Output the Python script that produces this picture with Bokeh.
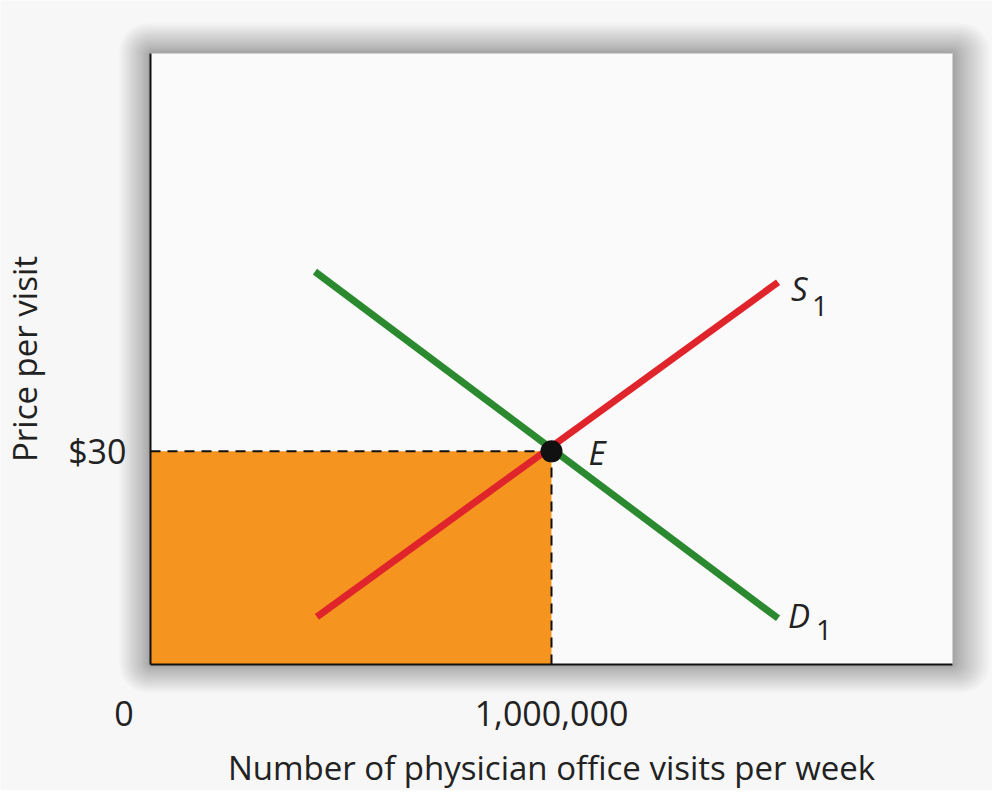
from bokeh.plotting import figure
from bokeh.models import Range1d, FixedTicker, BoxAnnotation
from bokeh.core.properties import value
from bokeh.embed import file_html
from bokeh.resources import INLINE

# ---- data ----
x_max = 2_000_000
y_max = 86
eq_q = [1_000_000]
eq_p = [30]
x_ticks = [0, 1_000_000]
x_tick_labels = {0: "0" + "\u00a0" * 6, 1_000_000: "1,000,000"}
y_ticks = [30]
y_tick_labels = {30: "$30"}
demand_q = [410_000, 1_565_000]
demand_p = [55.3, 6.5]
supply_q = [415_000, 1_565_000]
supply_p = [6.7, 53.8]
curve_names = ["S", "D"]
curve_subs = ["1", "1"]

FONT = "Open Sans"
CW, CH = 992, 790           # canvas
BOX_L, BOX_T = 150, 53      # box position in canvas px
BOX_W, BOX_H = 802, 611
dxp = x_max / BOX_W
dyp = y_max / BOX_H

x0 = -BOX_L * dxp
x1 = x_max + (CW - BOX_L - BOX_W) * dxp
y0 = -(CH - BOX_T - BOX_H) * dyp
y1 = y_max + BOX_T * dyp

p = figure(frame_width=CW, frame_height=CH,
           x_range=Range1d(x0, x1), y_range=Range1d(y0, y1),
           output_backend="svg", toolbar_location=None,
           min_border=0, min_border_left=0, min_border_right=0,
           min_border_top=0, min_border_bottom=0)
p.background_fill_color = "#f7f7f7"
p.border_fill_color = "#f7f7f7"
p.outline_line_color = None
p.xgrid.visible = False
p.ygrid.visible = False

# soft shadow around the box (denser near the edge)
N = 16
for k in range(1, N + 1):
    f = (k / N) ** 1.3
    p.add_layout(BoxAnnotation(left=-31 * f * dxp, right=x_max + 37 * f * dxp,
                               bottom=-28 * f * dyp, top=y_max + 30 * f * dyp,
                               fill_color="black", fill_alpha=0.022, line_color=None,
                               border_radius=int(4 + 24 * f), level="underlay"))

# box interior
p.quad(left=[0], right=[x_max], bottom=[0], top=[y_max], fill_color="#fafafa",
       line_color="#d0d0d0", line_width=1)

# revenue rectangle
p.quad(left=[0], right=eq_q, bottom=[0], top=eq_p, fill_color="#f5941f", line_color=None)

# curves
p.line(demand_q, demand_p, line_color="#2b8a2f", line_width=7)
p.line(supply_q, supply_p, line_color="#e0242b", line_width=7)

# dashed guides
p.segment(x0=[0, eq_q[0]], y0=[eq_p[0], 0], x1=[eq_q[0], eq_q[0]], y1=[eq_p[0], eq_p[0]],
          line_color="#111111", line_width=2, line_dash="10 7")

# equilibrium point
p.scatter(eq_q, eq_p, size=22, fill_color="#111111", line_color=None)

# labels
p.text(x=eq_q, y=eq_p, text=["E"], x_offset=37, y_offset=1, text_font=value(FONT),
       text_font_style="italic", text_font_size="33px", text_baseline="middle",
       text_align="left", text_color="#222222")
p.text(x=[supply_q[-1], demand_q[-1]], y=[supply_p[-1], demand_p[-1]], text=curve_names,
       x_offset=[13, 10], y_offset=[6, -3], text_font=value(FONT), text_font_style="italic",
       text_font_size="33px", text_baseline="middle", text_align="left", text_color="#222222")
p.text(x=[supply_q[-1], demand_q[-1]], y=[supply_p[-1], demand_p[-1]], text=curve_subs,
       x_offset=[34, 38], y_offset=[24, 12], text_font=value(FONT),
       text_font_size="28px", text_baseline="middle", text_align="left", text_color="#222222")

# axes, pinned to the box edges
for ax in (p.xaxis[0], p.yaxis[0]):
    ax.fixed_location = 0
    ax.axis_line_color = "#111111"
    ax.axis_line_width = 2
    ax.major_tick_line_color = None
    ax.minor_tick_line_color = None
    ax.major_label_text_font = FONT
    ax.major_label_text_font_size = "34px"
    ax.major_label_text_color = "#222222"
    ax.axis_label_text_font = FONT
    ax.axis_label_text_font_style = "normal"
    ax.axis_label_text_color = "#222222"

p.xaxis.bounds = (0, x_max)
p.xaxis.ticker = FixedTicker(ticks=x_ticks)
p.xaxis.major_label_overrides = x_tick_labels
p.xaxis.major_label_standoff = 19
p.xaxis.axis_label = "Number of physician office visits per week"
p.xaxis.axis_label_text_font_size = "33px"
p.xaxis.axis_label_standoff = 6

p.yaxis.bounds = (0, y_max)
p.yaxis.ticker = FixedTicker(ticks=y_ticks)
p.yaxis.major_label_overrides = y_tick_labels
p.yaxis.major_label_standoff = 18
p.yaxis.axis_label = "Price per visit"
p.yaxis.axis_label_text_font_size = "33px"
p.yaxis.axis_label_standoff = 18

open("out.html", "w").write(file_html(p, INLINE))
